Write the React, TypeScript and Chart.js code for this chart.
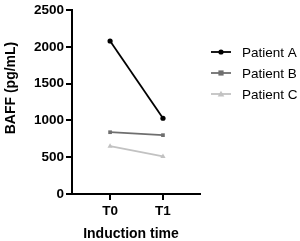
import React, { useEffect, useRef } from "react";
import { Chart, registerables } from "chart.js";

Chart.register(...registerables);

const timePoints = ["T0", "T1"];
const patientNames = ["Patient A", "Patient B", "Patient C"];
const patientA = [2080, 1030];
const patientB = [840, 800];
const patientC = [650, 510];
const yTicks = [0, 500, 1000, 1500, 2000, 2500];

const FONT = "'Liberation Sans', Arial, Helvetica, sans-serif";

// Legend on the right plus the two axis titles, drawn by hand
const decorations = {
  id: "decorations",
  afterDraw(chart: any) {
    const ctx = chart.ctx as CanvasRenderingContext2D;
    ctx.save();
    // legend
    const startY = 52;
    const step = 21;
    chart.data.datasets.forEach((ds: any, i: number) => {
      const y = startY + i * step;
      ctx.strokeStyle = ds.borderColor;
      ctx.lineWidth = ds.borderWidth;
      ctx.beginPath();
      ctx.moveTo(211, y);
      ctx.lineTo(231, y);
      ctx.stroke();
      ctx.fillStyle = ds.pointBackgroundColor;
      const cx = 221;
      const r = ds.pointRadius;
      ctx.beginPath();
      if (ds.pointStyle === "circle") {
        ctx.arc(cx, y, r, 0, Math.PI * 2);
      } else if (ds.pointStyle === "rect") {
        ctx.rect(cx - r, y - r, 2 * r, 2 * r);
      } else {
        ctx.moveTo(cx, y - r * 1.1);
        ctx.lineTo(cx + r * 1.1, y + r * 0.8);
        ctx.lineTo(cx - r * 1.1, y + r * 0.8);
        ctx.closePath();
      }
      ctx.fill();
      ctx.fillStyle = "#000";
      ctx.font = `13.5px ${FONT}`;
      ctx.textAlign = "left";
      ctx.textBaseline = "middle";
      ctx.fillText(ds.label, 242, y + 1);
    });
    // axis titles
    ctx.fillStyle = "#000";
    ctx.font = `bold 14px ${FONT}`;
    ctx.textAlign = "center";
    ctx.textBaseline = "middle";
    ctx.fillText("Induction time", 131, 234);
    ctx.translate(11, 88);
    ctx.rotate(-Math.PI / 2);
    ctx.fillText("BAFF (pg/mL)", 0, 0);
    ctx.restore();
  },
};

export default function App() {
  const canvasRef = useRef<HTMLCanvasElement>(null);

  useEffect(() => {
    const toPoints = (vals: number[]) => vals.map((v, i) => ({ x: i, y: v }));
    const makeSet = (label: string, vals: number[], color: string, style: string, r: number) => ({
      label,
      data: toPoints(vals),
      borderColor: color,
      backgroundColor: color,
      pointBackgroundColor: color,
      pointBorderColor: color,
      pointBorderWidth: 0,
      pointStyle: style,
      pointRadius: r,
      borderWidth: 1.8,
    });
    const chart = new Chart(canvasRef.current!, {
      type: "line",
      data: {
        datasets: [
          makeSet(patientNames[0], patientA, "#000000", "circle", 2.6),
          makeSet(patientNames[1], patientB, "#6f6f6f", "rect", 2.6),
          makeSet(patientNames[2], patientC, "#c2c2c2", "triangle", 3),
        ] as any,
      },
      options: {
        animation: false,
        responsive: false,
        maintainAspectRatio: false,
        layout: { padding: { top: 7, right: 100, left: 0, bottom: 0 } },
        plugins: {
          legend: { display: false },
          tooltip: { enabled: false },
        },
        scales: {
          x: {
            type: "linear",
            min: -0.72,
            max: 1.7,
            afterBuildTicks: (scale: any) => {
              scale.ticks = timePoints.map((_, i) => ({ value: i }));
            },
            afterFit: (scale: any) => {
              scale.height = 47;
            },
            ticks: {
              callback: (v: any) => timePoints[v as number],
              color: "#000",
              font: { family: FONT, size: 13.5, weight: "bold" },
              padding: 3,
              maxRotation: 0,
            },
            grid: {
              display: true,
              drawOnChartArea: false,
              drawTicks: true,
              tickLength: 6,
              color: "#000",
              lineWidth: 2,
            },
            border: { display: true, color: "#000", width: 2 },
          },
          y: {
            type: "linear",
            min: 0,
            max: 2500,
            afterBuildTicks: (scale: any) => {
              scale.ticks = yTicks.map((v) => ({ value: v }));
            },
            afterFit: (scale: any) => {
              scale.width = 72;
            },
            ticks: {
              callback: (v: any) => String(v),
              color: "#000",
              font: { family: FONT, size: 13.5, weight: "bold" },
              padding: 2,
            },
            grid: {
              display: true,
              drawOnChartArea: false,
              drawTicks: true,
              tickLength: 6,
              color: "#000",
              lineWidth: 2,
            },
            border: { display: true, color: "#000", width: 2 },
          },
        },
      },
      plugins: [decorations],
    });
    return () => chart.destroy();
  }, []);

  return (
    <div style={{ position: "fixed", left: 0, top: 0, width: 300, height: 241, background: "#fff" }}>
      <canvas ref={canvasRef} width={300} height={241} style={{ width: 300, height: 241 }} />
    </div>
  );
}
